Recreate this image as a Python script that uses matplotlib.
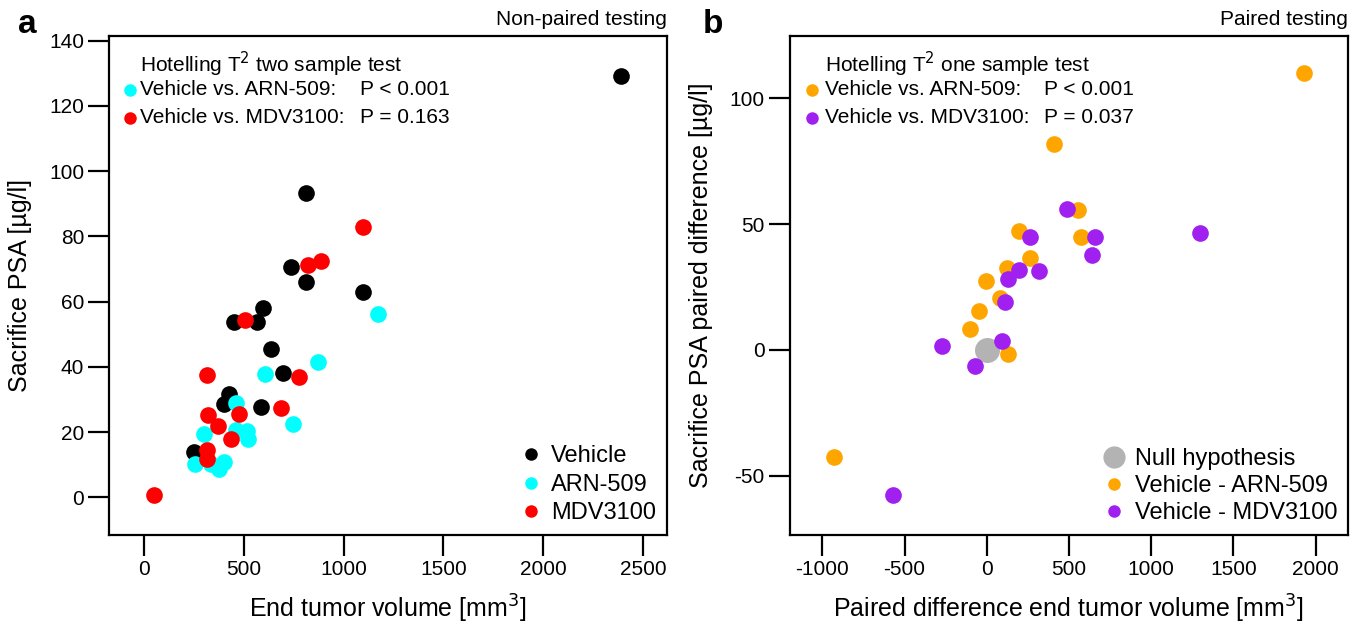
import numpy as np
import matplotlib
matplotlib.use("Agg")
import matplotlib.pyplot as plt
from matplotlib.lines import Line2D

plt.rcParams['font.family'] = ['Liberation Sans', 'DejaVu Sans']
plt.rcParams['axes.unicode_minus'] = False

# Panel a: end tumor volume (mm3) vs sacrifice PSA (ug/l) per treatment group
vehicle_vol = [2390, 812, 735, 812, 1097, 598, 453, 568, 635, 697, 428, 402, 588, 252]
vehicle_psa = [129.3, 93.2, 70.6, 66.0, 62.8, 58.1, 53.6, 53.6, 45.5, 38.2, 31.6, 28.7, 27.7, 13.8]

arn_vol = [1175, 873, 605, 460, 748, 302, 460, 518, 522, 257, 335, 402, 377]
arn_psa = [56.2, 41.5, 37.7, 29.0, 22.6, 19.5, 20.5, 20.3, 17.8, 10.1, 10.3, 10.8, 8.8]

mdv_vol = [1095, 822, 887, 507, 778, 318, 475, 685, 323, 373, 438, 318, 318, 52]
mdv_psa = [82.8, 71.1, 72.3, 54.5, 36.9, 37.4, 25.4, 27.4, 25.3, 21.8, 17.9, 14.4, 11.8, 0.6]

# Panel b: paired differences (vehicle minus treatment)
d_arn_vol = [1930, 410, 555, 196, 576, 261, 126, -2, 83, -49, -103, 130, -926]
d_arn_psa = [110.0, 82.0, 55.4, 47.2, 44.8, 36.5, 32.6, 27.4, 20.5, 15.6, 8.5, -1.5, -42.5]

d_mdv_vol = [1295, 490, 261, 657, 642, 195, 318, 132, 114, 93, -275, -73, -568]
d_mdv_psa = [46.3, 55.9, 44.8, 44.8, 37.8, 31.9, 31.5, 28.2, 19.2, 3.5, 1.4, -6.4, -57.5]

null_point = (0, 0)

c_vehicle = 'black'
c_arn = '#00ffff'
c_mdv = '#ff0000'
c_darn = '#ffa500'
c_dmdv = '#a020f0'
c_null = '#b3b3b3'

fig = plt.figure(figsize=(13.64, 6.27), dpi=100)
ax1 = fig.add_axes([0.080, 0.147, 0.409, 0.795])
ax2 = fig.add_axes([0.579, 0.147, 0.409, 0.795])

ms = 12
fs_tick = 15
fs_lab = 18
fs_txt = 15
fs_leg = 17


def style_axes(ax):
    for sp in ax.spines.values():
        sp.set_linewidth(1.6)
    ax.tick_params(direction='out', length=15, width=1.6, labelsize=fs_tick, pad=3)


def add_test_box(ax, title, rows, dot_x, text_x, p_x):
    ax.text(text_x, 0.943, title, transform=ax.transAxes, fontsize=fs_txt, va='center')
    for (label, pval, color), y in zip(rows, (0.893, 0.837)):
        ax.plot([dot_x], [y], 'o', ms=9, color=color, mew=0, transform=ax.transAxes)
        ax.text(text_x, y, label, transform=ax.transAxes, fontsize=fs_txt, va='center')
        ax.text(p_x, y, pval, transform=ax.transAxes, fontsize=fs_txt, va='center')


# --- panel a ---
ax1.plot(vehicle_vol, vehicle_psa, 'o', ms=ms, color=c_vehicle, mew=0)
ax1.plot(arn_vol, arn_psa, 'o', ms=ms, color=c_arn, mew=0)
ax1.plot(mdv_vol, mdv_psa, 'o', ms=ms, color=c_mdv, mew=0)
ax1.set_xlim(-174, 2620)
ax1.set_ylim(-11.5, 141.3)
ax1.set_xticks([0, 500, 1000, 1500, 2000, 2500])
ax1.set_yticks([0, 20, 40, 60, 80, 100, 120, 140])
ax1.set_xlabel('End tumor volume [mm$^3$]', fontsize=fs_lab, labelpad=10)
ax1.set_ylabel('Sacrifice PSA [µg/l]', fontsize=fs_lab, labelpad=12)
style_axes(ax1)

add_test_box(ax1, 'Hotelling T$^2$ two sample test',
             [('Vehicle vs. ARN-509:', 'P < 0.001', c_arn),
              ('Vehicle vs. MDV3100:', 'P = 0.163', c_mdv)],
             dot_x=0.038, text_x=0.055, p_x=0.449)

handles_a = [Line2D([], [], ls='', marker='o', ms=9, mew=0, color=c) for c in (c_vehicle, c_arn, c_mdv)]
ax1.legend(handles_a, ['Vehicle', 'ARN-509', 'MDV3100'], loc='lower right', frameon=False,
           fontsize=fs_leg, handletextpad=0.25, labelspacing=0.27, borderaxespad=0.15,
           handlelength=1.2, borderpad=0.3)

ax1.set_title('Non-paired testing', loc='right', fontsize=fs_txt, pad=8)
fig.text(0.013, 0.947, 'a', fontsize=24, fontweight='bold')

# --- panel b ---
ax2.plot(*null_point, 'o', ms=18, color=c_null, mew=0)
ax2.plot(d_arn_vol, d_arn_psa, 'o', ms=ms, color=c_darn, mew=0)
ax2.plot(d_mdv_vol, d_mdv_psa, 'o', ms=ms, color=c_dmdv, mew=0)
ax2.set_xlim(-1198, 2195)
ax2.set_ylim(-73.5, 124.6)
ax2.set_xticks([-1000, -500, 0, 500, 1000, 1500, 2000])
ax2.set_yticks([-50, 0, 50, 100])
ax2.set_xlabel('Paired difference end tumor volume [mm$^3$]', fontsize=fs_lab, labelpad=10)
ax2.set_ylabel('Sacrifice PSA paired difference [µg/l]', fontsize=fs_lab, labelpad=12)
style_axes(ax2)

add_test_box(ax2, 'Hotelling T$^2$ one sample test',
             [('Vehicle vs. ARN-509:', 'P < 0.001', c_darn),
              ('Vehicle vs. MDV3100:', 'P = 0.037', c_dmdv)],
             dot_x=0.039, text_x=0.063, p_x=0.455)

handles_b = [Line2D([], [], ls='', marker='o', ms=16, mew=0, color=c_null),
             Line2D([], [], ls='', marker='o', ms=9, mew=0, color=c_darn),
             Line2D([], [], ls='', marker='o', ms=9, mew=0, color=c_dmdv)]
ax2.legend(handles_b, ['Null hypothesis', 'Vehicle - ARN-509', 'Vehicle - MDV3100'],
           loc='lower right', frameon=False, fontsize=fs_leg, handletextpad=0.25,
           labelspacing=0.22, borderaxespad=0.15, handlelength=1.2, borderpad=0.3)

ax2.set_title('Paired testing', loc='right', fontsize=fs_txt, pad=8)
fig.text(0.515, 0.947, 'b', fontsize=24, fontweight='bold')

fig.savefig('out.png', dpi=100)
